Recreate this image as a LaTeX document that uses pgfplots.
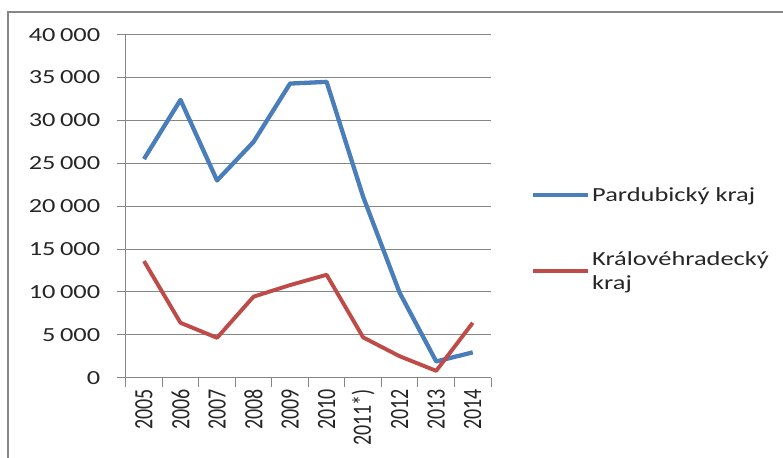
\documentclass[border=0pt]{standalone}
\usepackage{pgfplots}
\pgfplotsset{compat=1.18}
\usepackage{fontspec}
\setmainfont{Carlito}
\definecolor{pblue}{RGB}{74,126,187}
\definecolor{kred}{RGB}{190,75,72}
\definecolor{gridgray}{RGB}{134,134,134}
% the reference text is stretched sideways
\newcommand{\sx}[1]{\scalebox{1.32}[1]{#1}}
\newcommand{\sy}[1]{\scalebox{1}[1.32]{#1}}

\begin{document}
\begin{tikzpicture}[x=1pt,y=1pt]
\useasboundingbox (0,0) rectangle (783,457);
\draw[gridgray, line width=2pt] (8,-5) -- (8,445) -- (790,445);
\begin{axis}[
    at={(125.7pt,79.3pt)}, anchor=south west,
    scale only axis, width=365.3pt, height=343pt,
    xmin=-0.5, xmax=9.5, ymin=0, ymax=40000,
    axis x line*=bottom, axis y line*=left,
    axis line style={gridgray, line width=1pt, -},
    tick style={gridgray, line width=1pt},
    tick align=outside, major tick length=9pt,
    ymajorgrids, grid style={gridgray, line width=1pt},
    ytick={0,5000,...,40000},
    scaled y ticks=false,
    yticklabel={\sx{\pgfmathprintnumber{\tick}}},
    y tick label style={xshift=-13pt, /pgf/number format/.cd, fixed, 1000 sep={\,}, assume math mode=true},
    xtick={-0.5,0.5,...,9.5},
    xticklabels={},
    extra x ticks={0,...,9},
    extra x tick labels={\sy{2005},\sy{2006},\sy{2007},\sy{2008},\sy{2009},\sy{2010},\sy{2011*)},\sy{2012},\sy{2013},\sy{2014}},
    extra x tick style={major tick length=0pt, grid=none,
        xticklabel style={yshift=-8pt, rotate=90, anchor=east}},
    tick label style={font=\fontsize{20}{24}\selectfont, text=black!85},
    legend style={at={(1.1087,0.404)}, anchor=west, draw=none, fill=none,
        inner sep=0pt, font=\fontsize{20}{24}\selectfont, row sep=45pt,
        cells={align=left}, text=black!85},
    legend cell align=left,
    legend image code/.code={\draw[#1] (0pt,0pt) -- (55pt,0pt);},
]
\addplot[pblue, line width=4.3pt, line join=round] coordinates {
    (0,25500) (1,32400) (2,23000) (3,27500) (4,34300)
    (5,34500) (6,21100) (7,9900) (8,1900) (9,2950)
};
\addlegendentry{\sx{Pardubický kraj}}
\addplot[kred, line width=3.9pt, line join=round] coordinates {
    (0,13600) (1,6400) (2,4650) (3,9450) (4,10800)
    (5,12000) (6,4700) (7,2500) (8,800) (9,6400)
};
\addlegendentry{\sx{Královéhradecký}\\\sx{kraj}}
\end{axis}
\end{tikzpicture}
\end{document}
